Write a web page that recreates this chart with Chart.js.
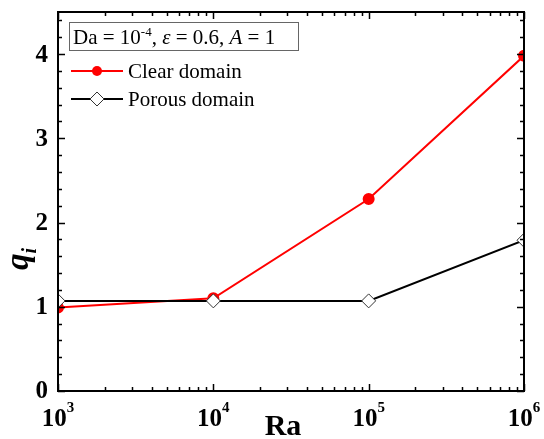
<!DOCTYPE html>
<html>
<head>
<meta charset="utf-8">
<script src="https://cdn.jsdelivr.net/npm/chart.js@4/dist/chart.umd.min.js"></script>
<style>
html, body { margin: 0; padding: 0; background: #fff; }
#wrap { width: 544px; height: 439px; }
</style>
</head>
<body>
<div id="wrap"><canvas id="qCanvas"></canvas></div>
<script>
// values
var raValues = [1e3, 1e4, 1e5, 1e6];
var clearValues = [0.99, 1.1, 2.28, 3.98];
var porousValues = [1.07, 1.07, 1.07, 1.79];
var xTickValues = [1e3, 1e4, 1e5, 1e6];
var xTickExps = ['3', '4', '5', '6'];
var yTickValues = [0, 1, 2, 3, 4];

var serif = "'Liberation Serif', 'Times New Roman', serif";

function toPoints(xs, ys) {
    return xs.map(function (x, i) { return { x: x, y: ys[i] }; });
}

// draw a list of text runs [text, font, raise] from x on baseline y
function drawRuns(ctx, runs, x, y) {
    runs.forEach(function (r) {
        ctx.font = r[1];
        ctx.fillText(r[0], x, y - (r[2] || 0));
        x += ctx.measureText(r[0]).width;
    });
    return x;
}

function runsWidth(ctx, runs) {
    var w = 0;
    runs.forEach(function (r) { ctx.font = r[1]; w += ctx.measureText(r[0]).width; });
    return w;
}

var framePlugin = {
    id: 'frame',
    afterDraw: function (chart) {
        var ctx = chart.ctx, a = chart.chartArea;
        var xs = chart.scales.x, ys = chart.scales.y;
        ctx.save();
        ctx.strokeStyle = '#000';
        ctx.fillStyle = '#000';

        // inward ticks, y axis
        ctx.lineWidth = 1.5;
        ctx.beginPath();
        for (var k = 0; k <= 22; k++) {
            var v = k * 0.2;
            var py = Math.round(ys.getPixelForValue(v)) + 0.5;
            var len = (k % 5 === 0) ? 7 : 4;
            ctx.moveTo(a.left, py); ctx.lineTo(a.left + len, py);
            ctx.moveTo(a.right, py); ctx.lineTo(a.right - len, py);
        }
        // inward ticks, x axis (log)
        for (var d = 3; d <= 6; d++) {
            for (var m = 1; m <= 9; m++) {
                if (d === 6 && m > 1) break;
                var px = Math.round(xs.getPixelForValue(m * Math.pow(10, d))) + 0.5;
                var l = (m === 1) ? 7 : 4;
                ctx.moveTo(px, a.bottom); ctx.lineTo(px, a.bottom - l);
                ctx.moveTo(px, a.top); ctx.lineTo(px, a.top + l);
            }
        }
        ctx.stroke();

        // frame
        ctx.lineWidth = 2;
        ctx.strokeRect(a.left, a.top, a.right - a.left, a.bottom - a.top);

        // y tick labels
        ctx.font = 'bold 25px ' + serif;
        ctx.textAlign = 'right';
        ctx.textBaseline = 'middle';
        yTickValues.forEach(function (v) {
            ctx.fillText(String(v), a.left - 10, ys.getPixelForValue(v) + 1);
        });

        // x tick labels 10^n
        ctx.textAlign = 'left';
        ctx.textBaseline = 'alphabetic';
        xTickValues.forEach(function (v, i) {
            var runs = [['10', 'bold 25px ' + serif, 0], [xTickExps[i], 'bold 15px ' + serif, 14]];
            var w = runsWidth(ctx, runs);
            drawRuns(ctx, runs, xs.getPixelForValue(v) - w / 2, 426);
        });

        // axis titles
        ctx.font = 'bold 30px ' + serif;
        ctx.textAlign = 'center';
        ctx.fillText('Ra', 283, 435);

        ctx.save();
        ctx.translate(28, 259);
        ctx.rotate(-Math.PI / 2);
        ctx.textAlign = 'left';
        var qRuns = [['q', 'bold italic 33px ' + serif, 0], ['i', 'bold italic 20px ' + serif, -8]];
        drawRuns(ctx, qRuns, -runsWidth(ctx, qRuns) / 2, 0);
        ctx.restore();

        // legend header box
        ctx.lineWidth = 1;
        ctx.strokeStyle = '#666';
        ctx.strokeRect(69.5, 22.5, 229, 28);
        ctx.textAlign = 'left';
        var f = '21px ' + serif, fi = 'italic 21px ' + serif;
        drawRuns(ctx, [
            ['Da = 10', f, 0], ['-4', '13px ' + serif, 8], [', ', f, 0],
            ['\u03b5', fi, 0], [' = 0.6, ', f, 0], ['A', fi, 0], [' = 1', f, 0]
        ], 73, 44);

        // legend entries
        ctx.lineWidth = 2;
        ctx.strokeStyle = '#ff0000';
        ctx.beginPath(); ctx.moveTo(71, 71); ctx.lineTo(123, 71); ctx.stroke();
        ctx.fillStyle = '#ff0000';
        ctx.beginPath(); ctx.arc(97, 71, 5, 0, Math.PI * 2); ctx.fill();

        ctx.strokeStyle = '#000';
        ctx.beginPath(); ctx.moveTo(71, 99); ctx.lineTo(123, 99); ctx.stroke();
        ctx.fillStyle = '#fff';
        ctx.strokeStyle = '#333';
        ctx.lineWidth = 1;
        ctx.beginPath();
        ctx.moveTo(97, 92); ctx.lineTo(104, 99); ctx.lineTo(97, 106); ctx.lineTo(90, 99); ctx.closePath();
        ctx.fill(); ctx.stroke();

        ctx.fillStyle = '#000';
        ctx.font = f;
        ctx.fillText('Clear domain', 128, 78);
        ctx.fillText('Porous domain', 128, 106);
        ctx.restore();
    }
};

var myChart = new Chart(document.getElementById('qCanvas'), {
    type: 'line',
    data: {
        datasets: [
            {
                label: 'Clear domain',
                data: toPoints(raValues, clearValues),
                borderColor: '#ff0000',
                backgroundColor: '#ff0000',
                pointBackgroundColor: '#ff0000',
                pointBorderColor: '#ff0000',
                pointRadius: 5,
                borderWidth: 2,
                clip: 0,
                order: 2
            },
            {
                label: 'Porous domain',
                data: toPoints(raValues, porousValues),
                borderColor: '#000',
                backgroundColor: '#fff',
                pointStyle: 'rectRot',
                pointBackgroundColor: '#fff',
                pointBorderColor: '#333',
                pointBorderWidth: 1,
                pointRadius: 7,
                borderWidth: 2,
                clip: 0,
                order: 1
            }
        ]
    },
    options: {
        responsive: true,
        maintainAspectRatio: false,
        animation: false,
        layout: { padding: { top: 12, right: 20, left: 0, bottom: 0 } },
        plugins: { legend: { display: false }, tooltip: { enabled: false } },
        scales: {
            x: {
                type: 'logarithmic',
                min: 1e3,
                max: 1e6,
                grid: { display: false },
                border: { display: false },
                ticks: { display: false },
                afterFit: function (s) { s.height = 48; }
            },
            y: {
                min: 0,
                max: 4.5,
                grid: { display: false },
                border: { display: false },
                ticks: { display: false },
                afterFit: function (s) { s.width = 58; }
            }
        }
    },
    plugins: [framePlugin]
});
</script>
</body>
</html>
